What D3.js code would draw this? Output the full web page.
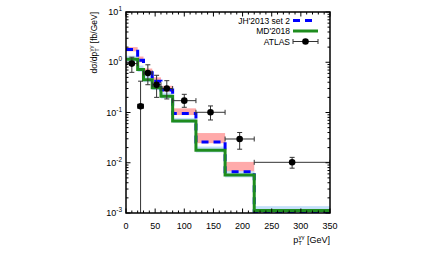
<!DOCTYPE html>
<html>
<head>
<meta charset="utf-8">
<script src="https://cdn.jsdelivr.net/npm/d3@7"></script>
<style>
  body { margin: 0; background: #fff; }
  text { font-family: "Liberation Sans", Arial, sans-serif; fill: #000; }
</style>
</head>
<body>
<div id="chart-area"></div>
<script>
// bin edges of pT(gamma gamma) in GeV
let binEdges = [0, 20, 30, 45, 60, 80, 120, 170, 220, 350];

// JH'2013 set 2 (blue dashed) and its uncertainty band
let jhValues = [1.8, 1.1, 0.62, 0.42, 0.28, 0.095, 0.026, 0.0066, 0.00105];
let jhLow = [1.65, 1.0, 0.58, 0.39, 0.26, 0.089, 0.0245, 0.0062, 0.001];
let jhHigh = [2.0, 1.3, 0.75, 0.5, 0.34, 0.121, 0.039, 0.0104, 0.00106];

// MD'2018 (green) and its uncertainty band
let mdValues = [1.15, 0.72, 0.45, 0.31, 0.21, 0.068, 0.0178, 0.0057, 0.00112];
let mdLow = [1.02, 0.64, 0.4, 0.28, 0.19, 0.062, 0.016, 0.0051, 0.001];
let mdHigh = [1.35, 0.86, 0.54, 0.37, 0.25, 0.078, 0.021, 0.0068, 0.00137];

// ATLAS data
let dataValues = [0.94, 0.133, 0.61, 0.357, 0.30, 0.172, 0.101, 0.0297, 0.0102];
let dataLow = [0.63, 0, 0.357, 0.2, 0.186, 0.127, 0.071, 0.0186, 0.0078];
let dataHigh = [1.26, 0.42, 0.89, 0.55, 0.43, 0.23, 0.135, 0.040, 0.0128];

let xTicks = [0, 50, 100, 150, 200, 250, 300, 350];
let yTicks = [1e1, 1e0, 1e-1, 1e-2, 1e-3];
let yTickExp = ["1", "0", "-1", "-2", "-3"];

let margin = { left: 126, right: 101, top: 12, bottom: 45 };
let width = 431 - margin.left - margin.right,
	height = 258 - margin.top - margin.bottom;

let svg = d3.select("#chart-area")
	.append("svg")
	.attr("width", 431)
	.attr("height", 258);

let g = svg.append("g")
	.attr("transform", "translate(" + margin.left + "," + margin.top + ")");

// Scales
let x = d3.scaleLinear()
	.domain([0, 350])
	.range([0, width]);

let y = d3.scaleLog()
	.domain([1e-3, 1e1])
	.range([height, 0]);

let yc = (v) => y(Math.max(v, 1e-3));

g.append("clipPath").attr("id", "clip")
	.append("rect").attr("width", width).attr("height", height);

let plot = g.append("g").attr("clip-path", "url(#clip)");

// bands
let bands = [[jhLow, jhHigh, "#ffaaaa"], [mdLow, mdHigh, "#c4e0fa"]];
bands.forEach(([lo, hi, col]) => {
	lo.forEach((v, i) => {
		plot.append("rect")
			.attr("x", x(binEdges[i]))
			.attr("width", x(binEdges[i + 1]) - x(binEdges[i]))
			.attr("y", yc(hi[i]))
			.attr("height", yc(v) - yc(hi[i]))
			.attr("fill", col);
	});
});

// histogram steps
const stepLine = d3.line()
	.x((d) => x(d[0]))
	.y((d) => yc(d[1]))
	.curve(d3.curveStepAfter);

const stepPoints = (vals) => {
	let pts = vals.map((v, i) => [binEdges[i], v]);
	pts.push([binEdges[binEdges.length - 1], vals[vals.length - 1]]);
	return pts;
};

plot.append("path")
	.attr("d", stepLine(stepPoints(jhValues)))
	.attr("fill", "none")
	.attr("stroke", "#0000ff")
	.attr("stroke-width", 3)
	.attr("stroke-dasharray", "7,5");

plot.append("path")
	.attr("d", stepLine(stepPoints(mdValues)))
	.attr("fill", "none")
	.attr("stroke", "#1e8c1e")
	.attr("stroke-width", 3);

// ATLAS points
dataValues.forEach((v, i) => {
	let cx = x((binEdges[i] + binEdges[i + 1]) / 2);
	let cy = yc(v);
	let pt = plot.append("g").attr("stroke", "#333").attr("stroke-width", 1);
	pt.append("line")
		.attr("x1", x(binEdges[i])).attr("x2", x(binEdges[i + 1]))
		.attr("y1", cy).attr("y2", cy);
	[binEdges[i], binEdges[i + 1]].forEach((e) => {
		pt.append("line")
			.attr("x1", x(e)).attr("x2", x(e))
			.attr("y1", cy - 2.5).attr("y2", cy + 2.5);
	});
	pt.append("line")
		.attr("x1", cx).attr("x2", cx)
		.attr("y1", yc(dataHigh[i])).attr("y2", dataLow[i] > 0 ? yc(dataLow[i]) : height + 2);
	[dataHigh[i], dataLow[i]].forEach((e) => {
		if (e <= 0) return;
		pt.append("line")
			.attr("x1", cx - 2.5).attr("x2", cx + 2.5)
			.attr("y1", yc(e)).attr("y2", yc(e));
	});
	plot.append("circle")
		.attr("cx", cx).attr("cy", cy).attr("r", 3.3)
		.attr("fill", "#000");
});

// Ticks (inward, on all four sides)
let ticks = g.append("g").attr("stroke", "#000").attr("stroke-width", 1);
d3.range(0, 351, 10).forEach((t) => {
	let len = (t % 50 === 0) ? 4.5 : 2.5;
	ticks.append("line").attr("x1", x(t)).attr("x2", x(t)).attr("y1", height).attr("y2", height - len);
	ticks.append("line").attr("x1", x(t)).attr("x2", x(t)).attr("y1", 0).attr("y2", len);
});
for (let e = -3; e <= 1; e++) {
	for (let m = 1; m <= 9; m++) {
		let v = m * Math.pow(10, e);
		if (v > 10) break;
		let len = (m === 1) ? 4.5 : 2.5;
		ticks.append("line").attr("x1", 0).attr("x2", len).attr("y1", y(v)).attr("y2", y(v));
		ticks.append("line").attr("x1", width).attr("x2", width - len).attr("y1", y(v)).attr("y2", y(v));
	}
}

// frame
g.append("rect")
	.attr("width", width).attr("height", height)
	.attr("fill", "none").attr("stroke", "#000").attr("stroke-width", 1.5);

// tick labels
xTicks.forEach((t) => {
	g.append("text")
		.attr("x", x(t)).attr("y", height + 15.5)
		.attr("text-anchor", "middle")
		.attr("font-size", "9px")
		.text(t);
});
yTicks.forEach((t, i) => {
	let lab = g.append("text")
		.attr("x", -4).attr("y", y(t) + 3.2)
		.attr("text-anchor", "end")
		.attr("font-size", "9px");
	lab.append("tspan").text("10");
	lab.append("tspan").attr("dy", -4).attr("font-size", "6.5px").text(yTickExp[i]);
});

// axis labels
let yLabel = g.append("text")
	.attr("transform", "translate(-29,0) rotate(-90)")
	.attr("text-anchor", "end")
	.attr("font-size", "8.5px");
yLabel.append("tspan").text("dσ/dp");
yLabel.append("tspan").attr("dy", 2).attr("font-size", "6px").text("T");
yLabel.append("tspan").attr("dx", -3.5).attr("dy", -6).attr("font-size", "6px").text("γγ");
yLabel.append("tspan").attr("dy", 4).text(" [fb/GeV]");

let xLabel = g.append("text")
	.attr("x", width).attr("y", height + 30)
	.attr("text-anchor", "end")
	.attr("font-size", "9px");
xLabel.append("tspan").text("p");
xLabel.append("tspan").attr("dy", 2).attr("font-size", "6px").text("T");
xLabel.append("tspan").attr("dx", -3.5).attr("dy", -6).attr("font-size", "6px").text("γγ");
xLabel.append("tspan").attr("dy", 4).text(" [GeV]");

// legend
let legend = g.append("g")
	.attr("transform", "translate(" + (width - 37) + ",8.5)");
let legendRows = ["JH'2013 set 2", "MD'2018", "ATLAS"];
legendRows.forEach((name, i) => {
	let row = legend.append("g").attr("transform", "translate(0," + (i * 10.5) + ")");
	row.append("text")
		.attr("x", -3).attr("y", 3)
		.attr("text-anchor", "end")
		.attr("font-size", "8.5px")
		.text(name);
	if (i === 0) {
		row.append("line").attr("x1", 0).attr("x2", 20).attr("y1", 0).attr("y2", 0)
			.attr("stroke", "#0000ff").attr("stroke-width", 3).attr("stroke-dasharray", "7,5");
	} else if (i === 1) {
		row.append("line").attr("x1", 0).attr("x2", 25).attr("y1", 0).attr("y2", 0)
			.attr("stroke", "#1e8c1e").attr("stroke-width", 3);
	} else {
		let e = row.append("g").attr("stroke", "#333").attr("stroke-width", 1);
		e.append("line").attr("x1", 0).attr("x2", 25).attr("y1", 0).attr("y2", 0);
		e.append("line").attr("x1", 0).attr("x2", 0).attr("y1", -2.5).attr("y2", 2.5);
		e.append("line").attr("x1", 25).attr("x2", 25).attr("y1", -2.5).attr("y2", 2.5);
		row.append("circle").attr("cx", 12.5).attr("cy", 0).attr("r", 3.3).attr("fill", "#000");
	}
});
</script>
</body>
</html>
